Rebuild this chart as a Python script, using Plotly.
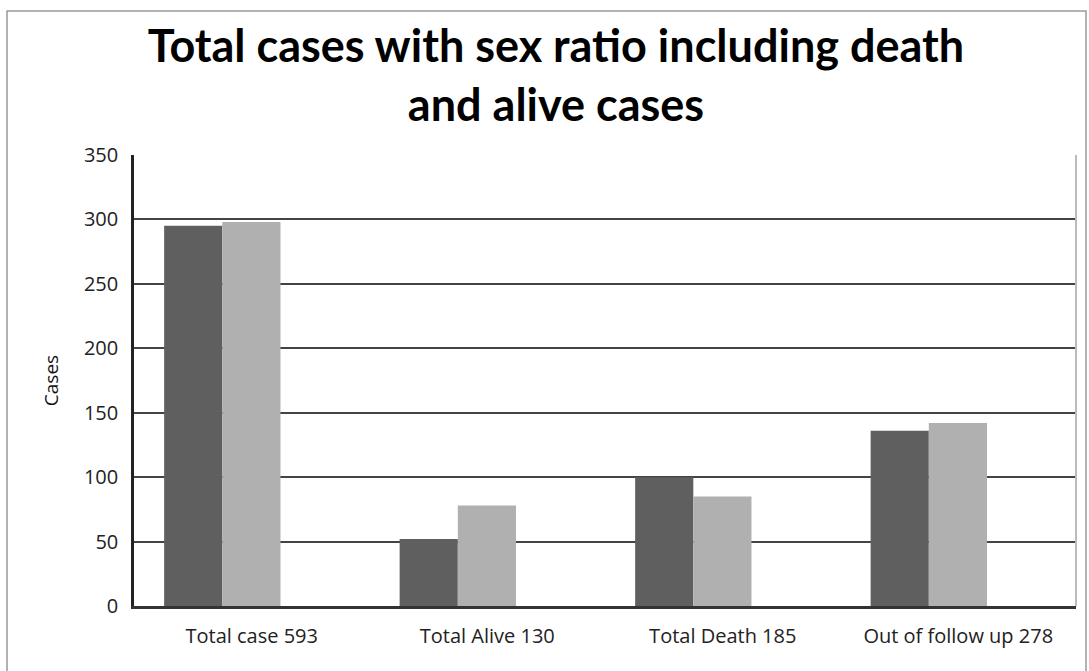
import plotly.graph_objects as go

categories = ["Total case 593", "Total Alive 130", "Total Death 185", "Out of follow up 278"]
series_a = [295, 52, 100, 136]
series_b = [298, 78, 85, 142]
y_ticks = [0, 50, 100, 150, 200, 250, 300, 350]

W, H = 1089, 671
L, R, T, B = 134, 13, 155, 65
pw, ph = W - L - R, H - T - B

fig = go.Figure()
fig.add_trace(go.Bar(x=categories, y=series_a, marker=dict(color="#5f5f5f", line=dict(width=0)),
                     width=0.247, offset=-0.372, showlegend=False))
fig.add_trace(go.Bar(x=categories, y=series_b, marker=dict(color="#b0b0b0", line=dict(width=0)),
                     width=0.247, offset=-0.125, showlegend=False))

fig.update_layout(
    width=W, height=H,
    margin=dict(l=L, r=R, t=T, b=B),
    paper_bgcolor="white", plot_bgcolor="white",
    title=dict(text="<b>Total cases with sex ratio including death<br>and alive cases</b>",
               x=556 / W, xanchor="center", y=1 - 62 / H, yanchor="middle",
               font=dict(family="Lato", size=45, color="black")),
    font=dict(family="Open Sans", color="#222"),
    xaxis=dict(showgrid=False, showline=True, linecolor="#333", linewidth=2.5,
               ticks="", tickfont=dict(size=20, color="#222"), ticklabelstandoff=10),
    yaxis=dict(range=[0, 350], tickvals=y_ticks, showgrid=True, gridcolor="#444", gridwidth=2,
               showline=True, linecolor="#222", linewidth=2.5, ticks="",
               tickfont=dict(size=20, color="#222"), ticklabelstandoff=9,
               title=dict(text="Cases", font=dict(size=19, color="#111"), standoff=21),
               zeroline=False),
)
# right edge of plot area (light)
fig.add_shape(type="line", xref="paper", yref="paper", x0=1, x1=1, y0=0, y1=1,
              line=dict(color="#bbb", width=2))
# outer chart border
fig.add_shape(type="rect", xref="paper", yref="paper",
              x0=(7 - L) / pw, x1=(1086 - L) / pw, y0=(T + ph - 675) / ph, y1=(T + ph - 11) / ph,
              line=dict(color="#999", width=1.5), fillcolor="rgba(0,0,0,0)", layer="below")
fig.write_html("out.html", config={"displayModeBar": False},
               post_script="document.body.style.margin='0';document.body.style.overflow='hidden';")
